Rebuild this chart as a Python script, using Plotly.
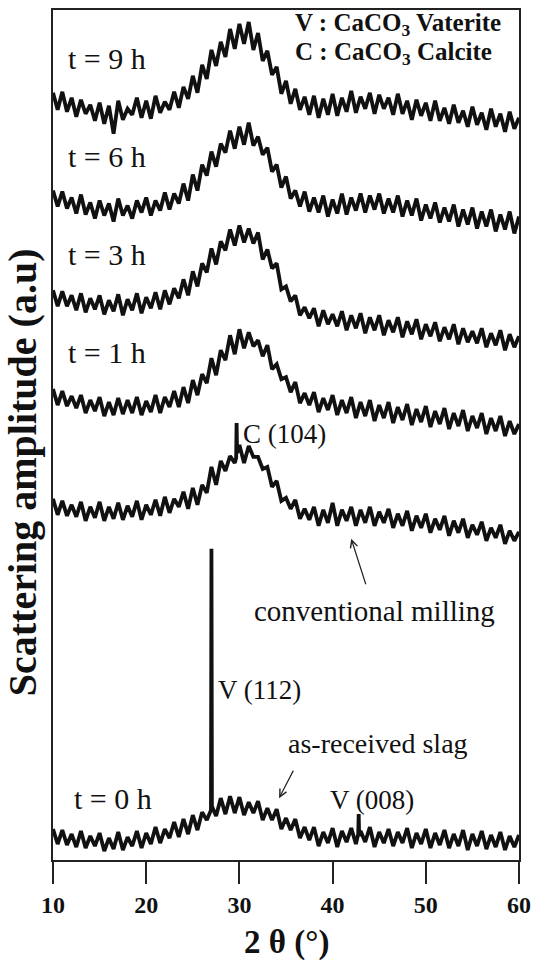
import plotly.graph_objects as go

# 2-theta grid (degrees), 0.5 deg step from 10 to 60
TWO_THETA = [10 + 0.5 * i for i in range(101)]

# Intensities (a.u., vertically stacked as in the figure)
I_9H = [769, 752, 770, 750, 764, 745, 762, 748, 757, 741,
        759, 738, 756, 728, 761, 742, 753, 747, 764, 744,
        761, 743, 766, 749, 760, 752, 770, 754, 775, 763,
        786, 769, 797, 783, 812, 796, 820, 805, 833, 813,
        838, 818, 840, 812, 829, 801, 811, 787, 795, 768,
        781, 758, 773, 752, 765, 747, 766, 744, 763, 747,
        768, 746, 764, 750, 771, 749, 765, 753, 769, 748,
        767, 753, 764, 747, 768, 748, 761, 742, 762, 746,
        759, 741, 761, 741, 754, 738, 757, 739, 751, 735,
        755, 737, 749, 732, 753, 735, 748, 730, 750, 733,
        744]

I_6H = [671, 655, 670, 653, 664, 648, 667, 647, 659, 643,
        661, 646, 658, 640, 663, 646, 656, 643, 661, 649,
        664, 646, 661, 651, 669, 652, 668, 658, 678, 661,
        687, 671, 697, 686, 710, 695, 718, 709, 731, 713,
        735, 717, 739, 716, 725, 707, 714, 690, 697, 674,
        685, 663, 671, 655, 670, 650, 664, 649, 666, 645,
        662, 648, 668, 647, 664, 651, 668, 649, 666, 652,
        668, 648, 663, 649, 666, 645, 661, 646, 663, 641,
        657, 643, 659, 639, 654, 640, 657, 635, 652, 637,
        654, 633, 650, 635, 652, 630, 647, 632, 650, 628,
        645]

I_3H = [571, 555, 570, 555, 566, 551, 568, 549, 563, 552,
        566, 547, 561, 550, 567, 546, 562, 551, 568, 548,
        564, 553, 569, 552, 571, 557, 573, 563, 582, 566,
        590, 575, 598, 589, 613, 597, 620, 611, 632, 616,
        636, 619, 633, 618, 629, 602, 612, 593, 598, 572,
        575, 560, 566, 546, 554, 543, 553, 535, 551, 537,
        547, 535, 550, 531, 546, 533, 548, 528, 544, 531,
        546, 526, 541, 529, 544, 524, 540, 527, 542, 522,
        537, 525, 539, 520, 534, 522, 537, 517, 533, 519,
        530, 518, 533, 514, 528, 516, 531, 511, 527, 514,
        525]

I_1H = [472, 456, 470, 455, 465, 453, 466, 448, 461, 450,
        464, 445, 459, 446, 463, 447, 461, 448, 464, 446,
        460, 449, 466, 448, 464, 454, 470, 454, 474, 458,
        481, 466, 487, 478, 503, 486, 511, 501, 526, 507,
        532, 513, 529, 515, 521, 505, 516, 492, 497, 482,
        484, 469, 479, 458, 468, 456, 469, 449, 463, 451,
        466, 446, 461, 448, 464, 443, 459, 445, 461, 440,
        456, 443, 459, 438, 454, 441, 457, 436, 452, 439,
        455, 434, 450, 437, 453, 432, 448, 435, 451, 430,
        445, 433, 448, 427, 443, 430, 445, 425, 440, 427,
        437]

I_CONV = [362, 346, 360, 345, 356, 344, 359, 340, 354, 343,
          359, 340, 354, 342, 358, 341, 355, 344, 360, 341,
          356, 346, 361, 345, 364, 348, 362, 354, 369, 352,
          373, 356, 376, 368, 394, 376, 400, 390, 405, 398,
          416, 398, 415, 404, 404, 392, 394, 374, 380, 360,
          363, 352, 361, 342, 352, 341, 354, 335, 351, 338,
          358, 335, 351, 340, 354, 335, 351, 338, 354, 335,
          349, 338, 352, 333, 347, 335, 350, 330, 345, 333,
          347, 328, 342, 331, 345, 325, 340, 328, 342, 323,
          336, 326, 339, 320, 333, 323, 336, 317, 330, 320,
          329]

I_0H = [31, 16, 30, 15, 26, 13, 29, 12, 24, 14,
        27, 9, 22, 11, 28, 10, 23, 14, 29, 12,
        27, 16, 33, 17, 31, 22, 38, 23, 41, 26,
        45, 30, 48, 40, 312, 44, 62, 46, 64, 47,
        63, 45, 58, 47, 59, 40, 52, 40, 51, 31,
        42, 30, 41, 22, 33, 20, 33, 14, 28, 17,
        32, 13, 29, 18, 32, 16, 29, 18, 33, 13,
        28, 17, 31, 14, 28, 17, 32, 12, 27, 16,
        31, 12, 27, 15, 30, 12, 26, 14, 30, 10,
        26, 14, 29, 11, 25, 13, 28, 10, 24, 13,
        25]

# Extra points shaping the sharp reflections
PEAK_0H_X = [26.95, 27.05, 42.75, 42.8, 42.85]
PEAK_0H_Y = [50, 54, 26, 46, 24]
PEAK_CONV_X = [29.65, 29.7, 29.75]
PEAK_CONV_Y = [403, 438, 408]

TRACE_LABELS = ["t = 9 h", "t = 6 h", "t = 3 h", "t = 1 h", "t = 0 h"]


def merge(xs, ys, px=(), py=()):
    pts = sorted(zip(list(xs) + list(px), list(ys) + list(py)))
    return [p[0] for p in pts], [p[1] for p in pts]


series = [
    merge(TWO_THETA, I_9H),
    merge(TWO_THETA, I_6H),
    merge(TWO_THETA, I_3H),
    merge(TWO_THETA, I_1H),
    merge(TWO_THETA, I_CONV, PEAK_CONV_X, PEAK_CONV_Y),
    merge(TWO_THETA, I_0H, PEAK_0H_X, PEAK_0H_Y),
]

fig = go.Figure()
for xs, ys in series:
    fig.add_trace(go.Scatter(x=xs, y=ys, mode="lines",
                             line=dict(color="#111111", width=3.8),
                             showlegend=False, hoverinfo="skip"))

SERIF = "Liberation Serif"
ann = []
label_pos = [(11.4, 803), (11.4, 705), (11.4, 607), (11.4, 509), (12.0, 62)]
for lab, (lx, ly) in zip(TRACE_LABELS, label_pos):
    ann.append(dict(x=lx, y=ly, xref="x", yref="y", text=lab, showarrow=False,
                    xanchor="left", yanchor="middle",
                    font=dict(family=SERIF, size=30, color="#111")))

plain = [("C (104)", 30.2, 427, 27), ("conventional milling", 31.4, 250, 29),
         ("V (112)", 27.5, 170, 27), ("as-received slag", 35.0, 117, 28),
         ("V (008)", 39.55, 60, 27)]
for t, tx, ty, fs in plain:
    ann.append(dict(x=tx, y=ty, xref="x", yref="y", text=t, showarrow=False,
                    xanchor="left", yanchor="middle",
                    font=dict(family=SERIF, size=fs, color="#111")))

for t, ty in [("V : CaCO<sub>3</sub> Vaterite", 837), ("C : CaCO<sub>3</sub> Calcite", 808)]:
    ann.append(dict(x=35.75, y=ty, xref="x", yref="y", text=t, showarrow=False,
                    xanchor="left", yanchor="middle",
                    font=dict(family=SERIF, size=25, color="#111", weight="bold")))

# arrows
ann.append(dict(x=42.0, y=322, xref="x", yref="y", ax=15, ay=47, text="",
                showarrow=True, arrowhead=5, arrowsize=1.2, arrowwidth=1.2,
                arrowcolor="#222"))
ann.append(dict(x=34.26, y=62, xref="x", yref="y", ax=15, ay=-29, text="",
                showarrow=True, arrowhead=5, arrowsize=1.2, arrowwidth=1.2,
                arrowcolor="#222"))

# axis titles
ann.append(dict(x=-0.0636, y=0.4566, xref="paper", yref="paper",
                text="Scattering amplitude (a.u)", textangle=-90, showarrow=False,
                xanchor="center", yanchor="middle",
                font=dict(family=SERIF, size=40, color="#111", weight="bold")))
ann.append(dict(x=0.5, y=-0.0974, xref="paper", yref="paper",
                text="2 θ (°)", showarrow=False, xanchor="center", yanchor="middle",
                font=dict(family=SERIF, size=33, color="#111", weight="bold")))

fig.update_layout(
    width=539, height=960,
    margin=dict(l=53, r=14, t=8, b=100),
    paper_bgcolor="white", plot_bgcolor="white",
    annotations=ann,
    xaxis=dict(range=[10, 60], tickvals=[10, 20, 30, 40, 50, 60],
               ticks="outside", ticklen=22, tickwidth=1.5, tickcolor="#222",
               showline=True, linecolor="#222", linewidth=1.5, mirror=True,
               showgrid=False, zeroline=False,
               tickfont=dict(family=SERIF, size=24, color="#111", weight="bold")),
    yaxis=dict(range=[0, 852], showticklabels=False, ticks="",
               showline=True, linecolor="#222", linewidth=1.5, mirror=True,
               showgrid=False, zeroline=False),
)

fig.write_html("out.html")
